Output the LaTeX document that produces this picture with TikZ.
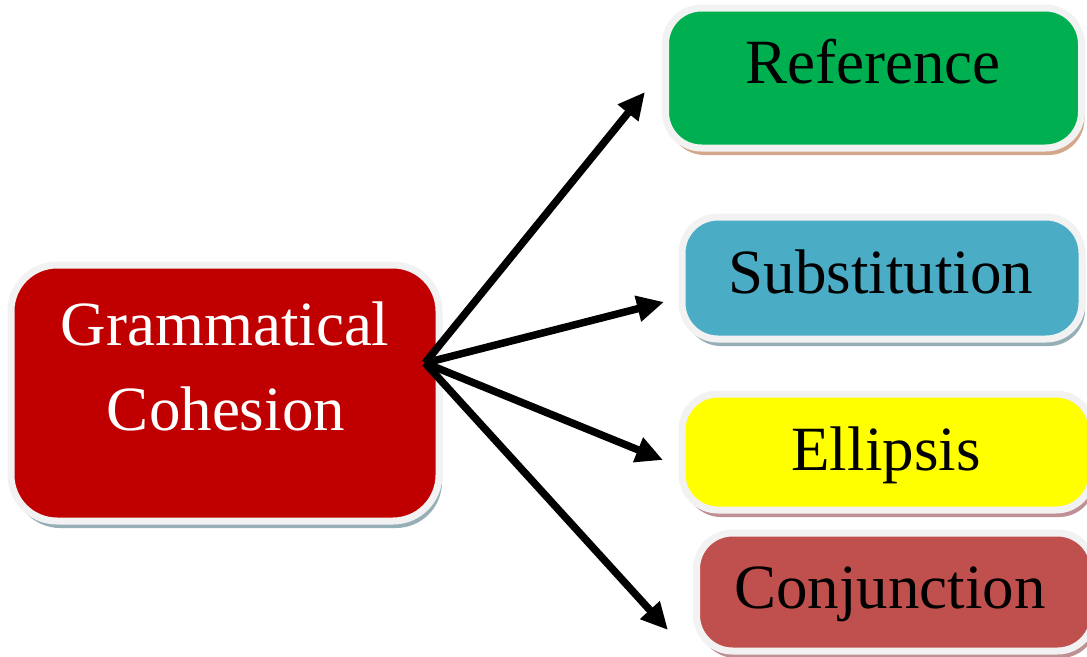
\documentclass[tikz,border=0pt]{standalone}
\usepackage{fontspec}
\setmainfont{Liberation Serif}
\usetikzlibrary{arrows.meta,shadows}
\definecolor{gcred}{HTML}{C00000}
\definecolor{refgreen}{HTML}{00B050}
\definecolor{subblue}{HTML}{4BACC6}
\definecolor{ellyellow}{HTML}{FFFF00}
\definecolor{conjred}{HTML}{C0504D}
\definecolor{rim}{HTML}{F2F2F2}
\definecolor{shadeblue}{HTML}{96AEB6}
\definecolor{shadetan}{HTML}{D4A78A}
\definecolor{shademauve}{HTML}{BF9094}
\begin{document}
\begin{tikzpicture}[x=1pt, y=-1pt,
  box/.style={rounded corners=36pt, draw=rim, line width=7pt, inner sep=0pt},
  shade/.style={drop shadow={shadow xshift=3pt, shadow yshift=-7pt, fill=#1, opacity=1}},
  boxtext/.style={font=\fontsize{63}{76}\selectfont, anchor=base, inner sep=0pt},
  link/.style={line width=7.5pt, -{Triangle[length=27pt,width=25pt]}}]
\clip (0,0) rectangle (1087,656);
\node[box, shade=shadeblue, fill=gcred, rounded corners=46pt, minimum width=428pt, minimum height=256pt] (gc) at (225,393) {};
\node[box, shade=shadetan, fill=refgreen, minimum width=416pt, minimum height=140pt] (ref) at (873.5,78) {};
\node[box, shade=shadeblue, fill=subblue, minimum width=400pt, minimum height=122pt] (sub) at (882,278) {};
\node[box, shade=shademauve, fill=ellyellow, minimum width=410pt, minimum height=116pt] (ell) at (887,452) {};
\node[box, shade=shademauve, fill=conjred, minimum width=397pt, minimum height=118pt] (conj) at (895,592) {};
\node[boxtext, text=white] (gctop) at (225,345) {Grammatical};
\node[boxtext, text=white] (gcbot) at (226,430) {Cohesion};
\node[boxtext] (reftext) at (873,83) {Reference};
\node[boxtext] (subtext) at (881,293) {Substitution};
\node[boxtext] (elltext) at (886,470) {Ellipsis};
\node[boxtext] (conjtext) at (890,608) {Conjunction};
% arrows
\coordinate (hub) at (425,363);
\coordinate (refend) at (645,92);
\coordinate (subend) at (664,302);
\coordinate (ellend) at (663,460);
\coordinate (conjend) at (668,630);
\draw[link] (hub) -- (refend);
\draw[link] (hub) -- (subend);
\draw[link] (hub) -- (ellend);
\draw[link] (hub) -- (conjend);
\end{tikzpicture}
\end{document}
